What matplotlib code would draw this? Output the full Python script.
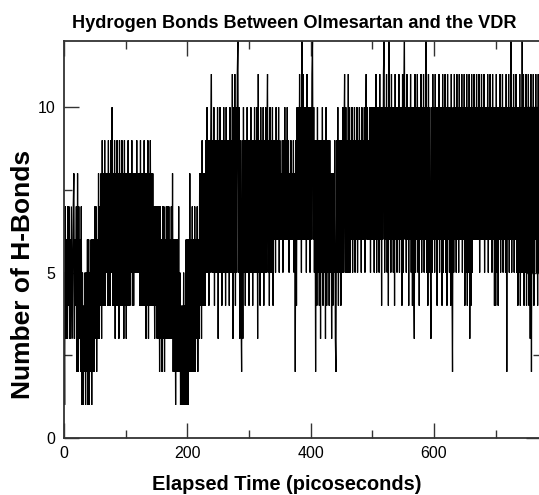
import numpy as np
import matplotlib
matplotlib.use("Agg")
import matplotlib.pyplot as plt
from matplotlib.ticker import MultipleLocator

# Hydrogen-bond counts, one value per picosecond
hb_000 = [5,1,7,3,6,3,7,4,7,3, 6,3,7,5,3,7,8,3,6,4, 7,2,8,2,7,3,6,2,7,1,
          5,1,4,2,5,1,5,2,6,1, 6,1,5,2,6,1,6,2,6,2]
hb_050 = [7,3,7,2,6,3,8,3,7,4, 8,3,9,4,8,4,9,4,8,5, 8,4,9,4,8,4,9,5,10,4,
          8,4,9,3,8,4,9,4,8,3, 9,4,8,4,9,4,8,3,9,4]
hb_100 = [8,3,8,4,9,4,8,4,8,5, 9,4,8,4,8,5,8,5,9,5, 8,5,8,4,9,4,8,4,8,4,
          9,4,8,3,8,4,9,3,8,4, 9,4,8,4,8,4,7,3,7,4]
hb_150 = [7,3,7,3,7,2,7,3,6,2, 7,3,7,2,6,3,7,3,7,3, 7,3,6,3,7,3,8,2,6,2,
          6,1,6,2,6,2,7,2,5,1, 4,1,4,1,5,1,4,1,6,1]
hb_200 = [6,1,6,2,8,2,6,2,7,2, 6,2,7,2,6,3,7,2,6,3, 8,4,8,3,9,4,8,4,8,4,
          9,5,10,5,9,4,9,5,9,11, 5,9,5,10,4,9,5,9,5,10]
hb_250 = [3,9,5,10,5,9,4,9,5,10, 5,9,4,10,5,9,5,9,4,10, 5,9,5,11,3,10,5,11,4,10,
          5,11,12,5,10,3,9,4,2,9, 3,10,5,9,4,9,5,10,5,9]
hb_300 = [4,9,5,10,5,9,4,9,5,10, 5,9,5,10,3,11,5,9,4,10, 5,9,5,10,4,9,5,10,5,9,
          11,5,9,4,10,5,9,5,10,4, 9,6,9,5,10,6,9,6,10,5]
hb_350 = [9,6,8,6,9,5,9,6,10,6, 9,6,10,6,9,5,8,6,9,6, 8,6,9,5,8,2,9,4,10,6,
          10,6,11,6,10,5,12,6,11,6, 10,6,10,5,11,6,10,6,10,5]
hb_400 = [10,6,11,12,6,10,5,9,2,9, 4,10,5,9,4,9,3,9,5,10, 4,9,5,9,3,10,4,9,5,9,
          4,9,5,8,3,8,4,8,5,9, 3,2,9,5,10,4,9,5,9,4]
hb_450 = [9,5,10,5,9,11,5,10,5,9, 5,11,5,10,5,9,6,10,5,9, 6,10,5,9,6,10,5,9,6,10,
          6,9,5,10,6,9,6,10,5,9, 11,6,10,6,9,6,10,5,10,6]
hb_500 = [10,6,10,5,10,6,11,5,10,6, 10,5,11,6,10,4,10,6,11,12, 5,10,6,11,5,10,4,12,6,10,
          5,11,6,10,5,10,4,11,6,10, 5,10,6,11,5,10,6,10,4,11]
hb_550 = [5,10,12,6,10,5,11,6,10,4, 10,6,11,5,10,4,10,5,3,11, 5,10,6,11,5,10,4,10,6,11,
          5,10,6,11,5,10,6,12,5,10, 4,11,5,10,6,3,10,5,11,6]
hb_600 = [10,5,11,6,10,4,10,6,11,5, 10,6,10,4,11,5,10,6,11,5, 10,4,11,6,10,5,10,4,11,5,
          2,10,5,11,6,10,5,11,6,10, 5,11,6,10,6,11,5,10,6,11]
hb_650 = [4,10,5,11,4,10,5,11,3,10, 4,11,5,10,6,11,6,10,6,11, 6,10,6,11,5,10,6,11,6,10,
          6,11,5,10,6,10,6,11,5,10, 6,11,6,10,5,11,6,10,4,10]
hb_700 = [4,11,5,10,4,10,6,11,5,10, 6,11,5,10,6,10,5,11,2,10, 6,11,5,10,6,12,5,10,6,11,
          5,10,6,11,5,10,4,10,5,11, 4,10,5,12,5,11,4,10,5,11]
hb_750 = [4,10,5,11,4,10,3,11,2,10, 5,11,4,10,6,11,5,10,4,11, 5,10,6,11,5]

x_ticks = [0, 200, 400, 600]
y_ticks = [0, 5, 10]

hbonds = np.array(hb_000 + hb_050 + hb_100 + hb_150 + hb_200 + hb_250 + hb_300 +
                  hb_350 + hb_400 + hb_450 + hb_500 + hb_550 + hb_600 + hb_650 +
                  hb_700 + hb_750, dtype=float)
time_ps = np.arange(len(hbonds), dtype=float)

W, H = 539, 495
fig = plt.figure(figsize=(W / 100, H / 100), dpi=100)
left, right, top, bottom = 64, 540.5, 41, 438
ax = fig.add_axes([left / W, 1 - bottom / H, (right - left) / W, (bottom - top) / H])

ax.plot(time_ps, hbonds, color="black", lw=0.9, solid_joinstyle="miter")

ax.set_xlim(0, (right - left) / 0.6167)
ax.set_ylim(0, 12)
ax.set_xticks(x_ticks)
ax.set_yticks(y_ticks)
ax.xaxis.set_minor_locator(MultipleLocator(100))
ax.yaxis.set_minor_locator(MultipleLocator(2.5))

font = "Liberation Sans"
ax.tick_params(which="both", direction="in", top=True, right=True, width=1.0, color="#333333")
ax.tick_params(which="major", length=11, pad=6)
ax.tick_params(which="minor", length=5.5)
for lab in ax.get_xticklabels() + ax.get_yticklabels():
    lab.set_fontfamily(font)
    lab.set_fontsize(11.5)
for sp in ax.spines.values():
    sp.set_linewidth(1.3)
    sp.set_color("#333333")

fig.text(294 / W, 1 - 23 / H, "Hydrogen Bonds Between Olmesartan and the VDR",
         ha="center", va="center", fontsize=13.1, fontweight="bold", family=font)
fig.text(287 / W, 1 - 484 / H, "Elapsed Time (picoseconds)",
         ha="center", va="center", fontsize=14.4, fontweight="bold", family=font)
fig.text(23 / W, 1 - 274 / H, "Number of H-Bonds", rotation=90,
         ha="center", va="center", fontsize=19, fontweight="bold", family=font)

fig.savefig("out.png", dpi=100)
